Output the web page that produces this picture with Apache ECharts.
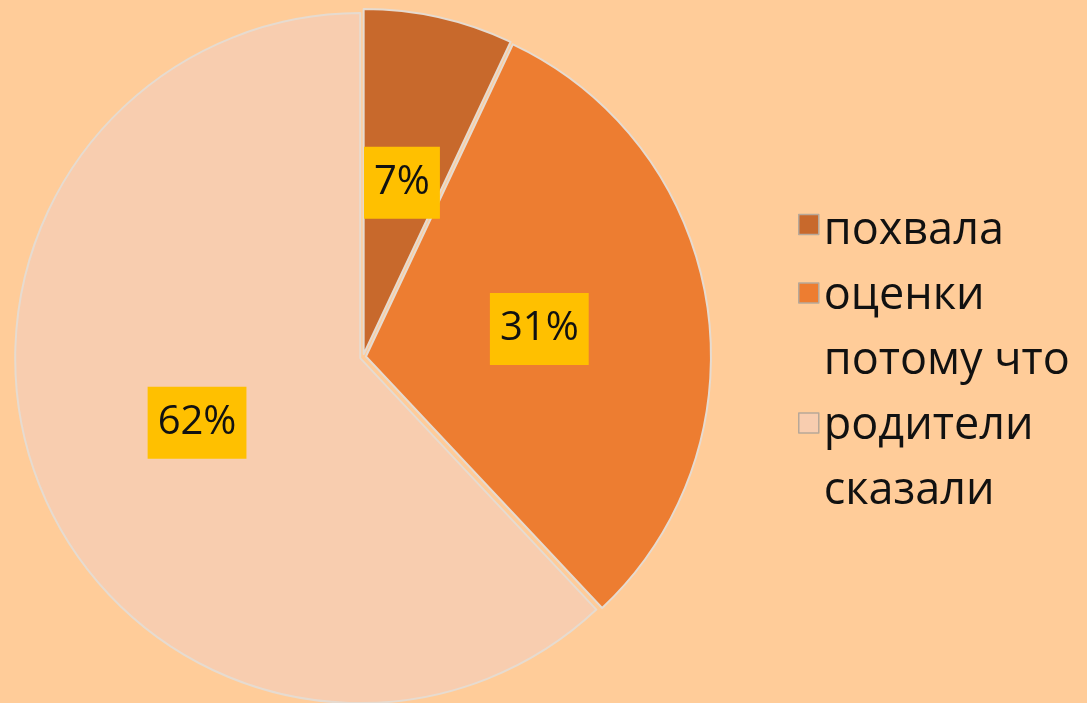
<!DOCTYPE html>
<html>
<head>
<meta charset="utf-8">
<style>
  html, body { margin: 0; padding: 0; background: #FFCC99; }
  #chart { width: 1087px; height: 703px; }
</style>
<script src="https://cdn.jsdelivr.net/npm/echarts@6/dist/echarts.min.js"></script>
</head>
<body>
<div id="chart"></div>
<script>
const categories = ['похвала', 'оценки потому что', 'родители сказали'];
const values = [7, 31, 62];
const colors = ['#C8692C', '#ED7D31', '#F8CDAF'];

const chart = echarts.init(document.getElementById('chart'));

// wrap legend names at the first space; a spacer line on top keeps
// the icon level with (and slightly above) the first line of text
const wrapName = (name) => {
  const i = name.indexOf(' ');
  const lines = i >= 0 ? [name.slice(0, i), name.slice(i + 1)] : [name];
  return '{s' + lines.length + '| }\n' + lines.map((l) => '{a|' + l + '}').join('\n');
};

const legendTops = [187, 223, 353];
const legends = categories.map((name, i) => ({
  data: [name],
  orient: 'vertical',
  left: 798,
  top: legendTops[i],
  padding: 0,
  itemWidth: 20,
  itemHeight: 20,
  icon: 'rect',
  selectedMode: false,
  formatter: wrapName,
  itemStyle: { borderColor: '#b8a898', borderWidth: 1.5 },
  textStyle: {
    fontFamily: 'Open Sans',
    fontSize: 45,
    color: '#111',
    rich: {
      a: { fontFamily: 'Open Sans', fontSize: 45, lineHeight: 65, color: '#111' },
      s1: { fontSize: 10, lineHeight: 14 },
      s2: { fontSize: 10, lineHeight: 71 },
    },
  },
}));

const option = {
  backgroundColor: '#FFCC99',
  animation: false,
  legend: legends,
  series: [
    {
      type: 'pie',
      center: [363, 357],
      radius: 345,
      startAngle: 90,
      clockwise: true,
      selectedMode: 'multiple',
      selectedOffset: 3,
      silent: true,
      itemStyle: {
        borderColor: '#e6dbd0',
        borderWidth: 2,
      },
      select: {
        itemStyle: { borderColor: '#e6dbd0', borderWidth: 2 },
      },
      label: {
        show: true,
        position: 'inside',
        formatter: '{c}%',
        fontFamily: 'Open Sans',
        fontSize: 40,
        lineHeight: 40,
        color: '#111',
        backgroundColor: '#FFC000',
        padding: [17, 10, 15, 10],
      },
      labelLine: { show: false },
      data: categories.map((name, i) => ({
        name: name,
        value: values[i],
        selected: true,
        itemStyle: { color: colors[i] },
      })),
    },
  ],
};

chart.setOption(option);
</script>
</body>
</html>
